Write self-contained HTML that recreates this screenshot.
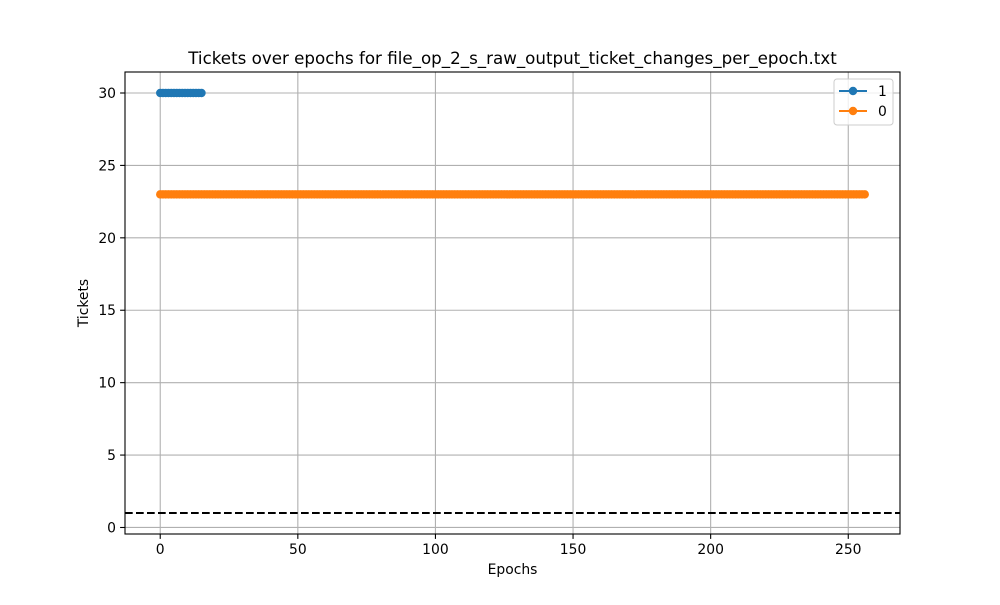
<!DOCTYPE html>
<html><head><meta charset="utf-8"><style>
body{margin:0;background:#fff;font-family:"Liberation Sans","DejaVu Sans",sans-serif}
</style></head><body>
<svg id="chart" width="1000" height="600" xmlns="http://www.w3.org/2000/svg" font-family="DejaVu Sans, Liberation Sans, sans-serif">
<rect width="1000" height="600" fill="#fff"/>
<g id="grid"></g><g id="marks"></g><g id="axes"></g>
</svg>
<script>
const series1Epochs = [0,15];
const series1Value = [30];
const series0Epochs = [0,256];
const series0Value = [23];
const thresholdValue = [1];
const xTicks = [0,50,100,150,200,250];
const yTicks = [0,5,10,15,20,25,30];
const legendLabels = ["1","0"];

const L=125,R=900,T=72,B=534;
const xmin=-12.8,xmax=268.8,ymin=-0.45,ymax=31.45;
const sx=v=>L+(v-xmin)/(xmax-xmin)*(R-L);
const sy=v=>B-(v-ymin)/(ymax-ymin)*(B-T);
const NS="http://www.w3.org/2000/svg";
function mk(tag,attrs,parent,text){const e=document.createElementNS(NS,tag);for(const k in attrs)e.setAttribute(k,attrs[k]);if(text!==undefined)e.textContent=text;parent.appendChild(e);return e;}
const grid=document.getElementById('grid'),marks=document.getElementById('marks'),axes=document.getElementById('axes');
xTicks.forEach(t=>{
 const g=mk('line',{x1:sx(t),x2:sx(t),y1:T,y2:B,stroke:'#b0b0b0','stroke-width':1.1},grid);
 
 mk('line',{x1:sx(t),x2:sx(t),y1:B,y2:B+4.9,stroke:'#000','stroke-width':1.1},axes);
 const tx=mk('text',{x:sx(t),y:B+20,'text-anchor':'middle','font-size':13.9},axes,t);
 
});
yTicks.forEach(t=>{
 const g=mk('line',{x1:L,x2:R,y1:sy(t),y2:sy(t),stroke:'#b0b0b0','stroke-width':1.1},grid);
 
 mk('line',{x1:L-4.9,x2:L,y1:sy(t),y2:sy(t),stroke:'#000','stroke-width':1.1},axes);
 const tx=mk('text',{x:L-9,y:sy(t)+5,'text-anchor':'end','font-size':13.9},axes,t);
 
});
function drawSeries(ep,val,color,name){
 const pts=[];for(let e=ep[0];e<=ep[1];e++)pts.push([sx(e),sy(val[0])]);
 const pl=mk('polyline',{points:pts.map(p=>p.join(',')).join(' '),fill:'none',stroke:color,'stroke-width':2.1},marks);
 
 pts.forEach(p=>{const c=mk('circle',{cx:p[0],cy:p[1],r:4.2,fill:color},marks);
  });
}
drawSeries(series0Epochs,series0Value,'#ff7f0e','series-0');
drawSeries(series1Epochs,series1Value,'#1f77b4','series-1');
const th=mk('line',{x1:L,x2:R,y1:sy(thresholdValue[0]),y2:sy(thresholdValue[0]),stroke:'#000','stroke-width':2.1,'stroke-dasharray':'7.7,3.3'},marks);

const fr=mk('rect',{x:L,y:T,width:R-L,height:B-T,fill:'none',stroke:'#000','stroke-width':1.1},axes);

const ti=mk('text',{x:(L+R)/2,y:64,'text-anchor':'middle','font-size':16.7},axes,'Tickets over epochs for file_op_2_s_raw_output_ticket_changes_per_epoch.txt');

const xl=mk('text',{x:(L+R)/2,y:574,'text-anchor':'middle','font-size':13.9},axes,'Epochs');

const yl=mk('text',{x:88,y:(T+B)/2,'text-anchor':'middle','font-size':13.9,transform:`rotate(-90 88 ${(T+B)/2})`},axes,'Tickets');

const lg=mk('g',{},axes);

mk('rect',{x:834,y:79,width:59,height:46,rx:3,fill:'#fff','fill-opacity':0.8,stroke:'#ccc'},lg);
const cols=['#1f77b4','#ff7f0e'];
legendLabels.forEach((lab,i)=>{
 const y=91+i*20;
 const e=mk('g',{},lg);
 
 mk('line',{x1:839,x2:867,y1:y,y2:y,stroke:cols[i],'stroke-width':2.1},e);
 mk('circle',{cx:853,cy:y,r:4.2,fill:cols[i]},e);
 mk('text',{x:878,y:y+5,'font-size':13.9},e,lab);
});
</script>
</body></html>
